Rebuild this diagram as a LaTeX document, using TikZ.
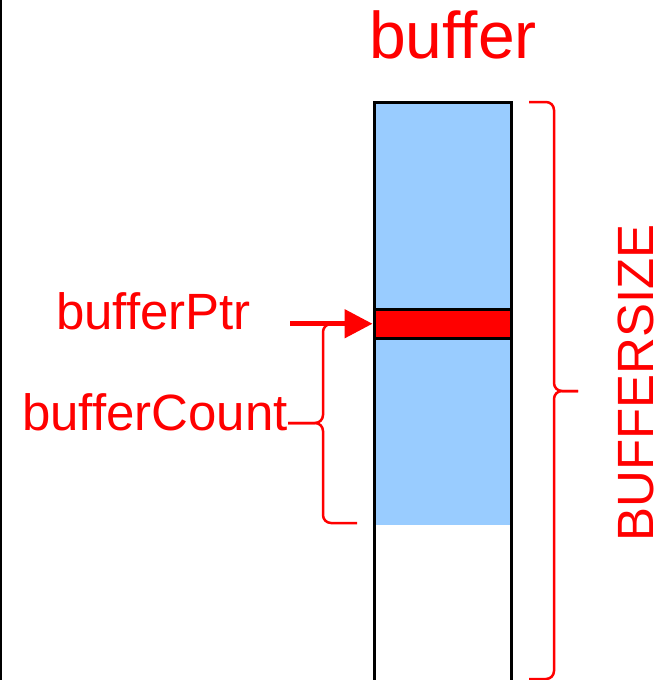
\documentclass[tikz,border=0pt]{standalone}
\usepackage{fontspec}
\setmainfont{Liberation Sans}
\usetikzlibrary{arrows.meta,positioning}
\tikzset{>={Triangle[length=28pt,width=28pt]}}
\definecolor{bufblue}{HTML}{99CCFF}
\tikzstyle{redtext} = [text=red, inner sep=0pt,
    font=\fontsize{51}{60}\selectfont]
\tikzstyle{cell} = [inner sep=0pt, minimum width=137pt, anchor=north west]
\tikzstyle{bracepath} = [draw=red, line width=2.5pt, rounded corners=8pt]

\begin{document}
\begin{tikzpicture}[x=1pt,y=-1pt]
    \clip (0,0) rectangle (667,680);
    \draw [line width=2.5pt] (1,0) -- (1,680);
    % the buffer itself
    \node [cell, fill=bufblue, minimum height=423pt] (used) at (374,102) {};
    \node [cell, draw, line width=3pt, minimum height=590pt] (buf) at (372.5,100.5) {};
    \node [cell, draw, line width=3pt, fill=red, minimum height=28.5pt] (slot) at (372.5,308) {};
    % labels
    \node [redtext, font=\fontsize{66}{70}\selectfont, anchor=base] (title) at (453,58) {buffer};
    \node [redtext, anchor=base west] (ptrlabel) at (56,329) {bufferPtr};
    \node [redtext, anchor=base west] (countlabel) at (22,430) {bufferCount};
    \node [redtext, rotate=90, anchor=base] (sizelabel) at (653,383) {BUFFERSIZE};
    \draw [->, red, line width=5pt, shorten <=39pt] (ptrlabel.east |- slot.west) -- (slot.west);
    % braces
    \draw [bracepath] (357,324) -- (323,324) -- (323,423) -- (288,423);
    \draw [bracepath] (288,423) -- (323,423) -- (323,523) -- (357,523);
    \draw [bracepath] (529,102) -- (554,102) -- (554,391) -- (578,391);
    \draw [bracepath] (578,391) -- (554,391) -- (554,679) -- (529,679);
  \end{tikzpicture}
\end{document}
